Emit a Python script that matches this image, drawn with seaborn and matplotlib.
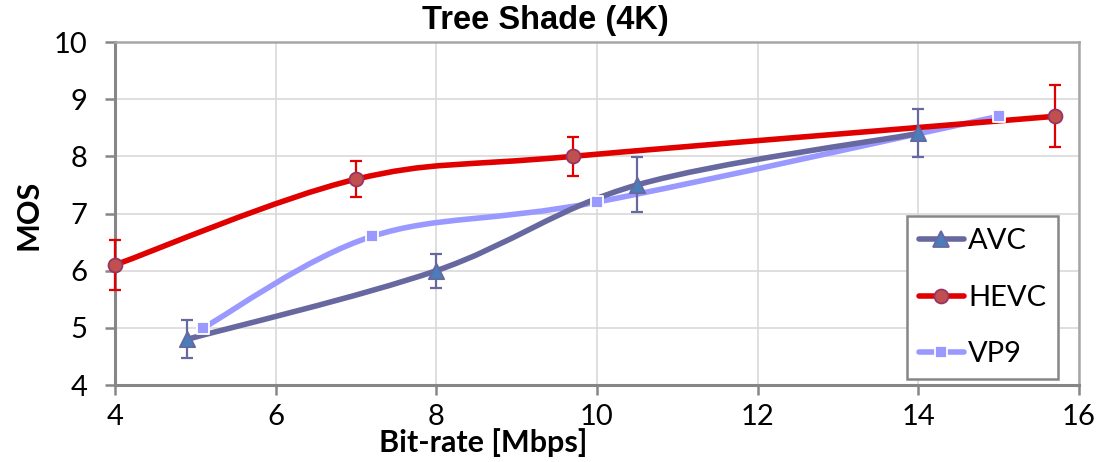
import numpy as np
import pandas as pd
import matplotlib
matplotlib.use("Agg")
import matplotlib.pyplot as plt
from matplotlib.path import Path
from matplotlib.patches import PathPatch
from matplotlib.lines import Line2D
import seaborn as sns

# ---- data ----
avc_rate = [4.9, 8.0, 10.5, 14.0]
avc_mos = [4.8, 6.0, 7.5, 8.4]
avc_err = [0.33, 0.30, 0.48, 0.42]

hevc_rate = [4.0, 7.0, 9.7, 15.7]
hevc_mos = [6.1, 7.6, 8.0, 8.7]
hevc_err = [0.43, 0.31, 0.34, 0.54]

vp9_rate = [5.1, 7.2, 10.0, 15.0]
vp9_mos = [5.0, 6.6, 7.2, 8.7]

codecs = ["AVC", "HEVC", "VP9"]
x_ticks = [4, 6, 8, 10, 12, 14, 16]
y_ticks = [4, 5, 6, 7, 8, 9, 10]

sns.set_theme(style="white")
plt.rcParams["font.family"] = ["Lato", "DejaVu Sans"]
plt.rcParams["text.color"] = "black"

fig = plt.figure(figsize=(11.14, 4.62), dpi=100)
ax = fig.add_axes([115 / 1114, 1 - 385 / 462, (1079 - 115) / 1114, (385 - 42) / 462])

styles = {
    "AVC": dict(line="#6868A0", face="#4A7EBB", edge="#6868A0", marker="^", ms=11),
    "HEVC": dict(line="#E00000", face="#C0504D", edge="#993366", marker="o", ms=10),
    "VP9": dict(line="#9999FF", face="#9999FF", edge="white", marker="s", ms=9),
}

def smooth_path(xs, ys):
    pts = np.column_stack([xs, ys]).astype(float)
    n = len(pts)
    verts = [pts[0]]
    codes = [Path.MOVETO]
    for i in range(n - 1):
        p0 = pts[i - 1] if i > 0 else pts[i]
        p1 = pts[i]
        p2 = pts[i + 1]
        p3 = pts[i + 2] if i + 2 < n else pts[i + 1]
        c1 = p1 + (p2 - p0) / 6.0
        c2 = p2 - (p3 - p1) / 6.0
        verts += [c1, c2, p2]
        codes += [Path.CURVE4] * 3
    return Path(verts, codes)

series = {
    "AVC": (avc_rate, avc_mos, avc_err),
    "HEVC": (hevc_rate, hevc_mos, hevc_err),
    "VP9": (vp9_rate, vp9_mos, None),
}

LW = 4.0
# lines (smoothed, Excel-like)
for z, name in zip([3, 4, 2], codecs):
    xs, ys, _ = series[name]
    ax.add_patch(PathPatch(smooth_path(xs, ys), fill=False, edgecolor=styles[name]["line"],
                           lw=LW, capstyle="round", joinstyle="round", zorder=z,
                           clip_on=False))

# error bars
for name in ["AVC", "HEVC"]:
    xs, ys, err = series[name]
    eb = ax.errorbar(xs, ys, yerr=err, fmt="none", ecolor=styles[name]["line"],
                     elinewidth=1.6, capsize=4.5, capthick=1.6, zorder=5)
    for art in eb.lines[1] + eb.lines[2]:
        art.set_clip_on(False)

# markers via seaborn
for name in codecs:
    xs, ys, _ = series[name]
    st = styles[name]
    df = pd.DataFrame({"rate": xs, "mos": ys})
    sns.scatterplot(data=df, x="rate", y="mos", ax=ax, marker=st["marker"], s=st["ms"] ** 2,
                    color=st["face"], edgecolor=st["edge"], linewidth=1.3, zorder=6,
                    legend=False, clip_on=False)

ax.set_xlim(4, 16)
ax.set_ylim(4, 10)
ax.set_xticks(x_ticks)
ax.set_yticks(y_ticks)
ax.set_xlabel("")
ax.set_ylabel("")
ax.grid(True, color="#D9D9D9", lw=1.2)
ax.set_axisbelow(True)
for sp in ["left", "bottom"]:
    ax.spines[sp].set_color("#868686")
    ax.spines[sp].set_linewidth(2.2)
for sp in ["top", "right"]:
    ax.spines[sp].set_color("#A6A6A6")
    ax.spines[sp].set_linewidth(1.8)
ax.tick_params(axis="both", which="major", direction="out", length=7, width=1.8,
               color="#868686", labelsize=21, labelcolor="black",
               bottom=True, left=True)
ax.tick_params(axis="y", pad=13)
ax.tick_params(axis="x", pad=7)

# legend
handles = []
for name in codecs:
    st = styles[name]
    handles.append(Line2D([0], [0], color=st["line"], lw=LW, marker=st["marker"],
                          markersize=st["ms"], markerfacecolor=st["face"],
                          markeredgecolor=st["edge"], markeredgewidth=1.3))
leg = ax.legend(handles, codecs, loc="lower right", bbox_to_anchor=(1058 / 1114, 1 - 379 / 462),
                bbox_transform=fig.transFigure, fontsize=21, frameon=True, fancybox=False,
                edgecolor="#868686", framealpha=1, handlelength=1.55, handletextpad=0.15,
                labelspacing=1.05, borderpad=0.4, borderaxespad=0)
leg.get_frame().set_linewidth(1.8)
for t in leg.get_texts():
    t.set_color("black")

fig.text(545 / 1114, 1 - 20 / 462, "Tree Shade (4K)", ha="center", va="center",
         fontsize=23.5, fontweight="bold", color="black",
         family=["Liberation Sans", "DejaVu Sans"])
fig.text(483 / 1114, 1 - 443 / 462, "Bit-rate [Mbps]", ha="center", va="center",
         fontsize=22, fontweight="bold", color="black")
fig.text(28 / 1114, 1 - 215 / 462, "MOS", ha="center", va="center", rotation=90,
         fontsize=22, fontweight="bold", color="black")

fig.savefig("out.png", dpi=100, facecolor="white")
